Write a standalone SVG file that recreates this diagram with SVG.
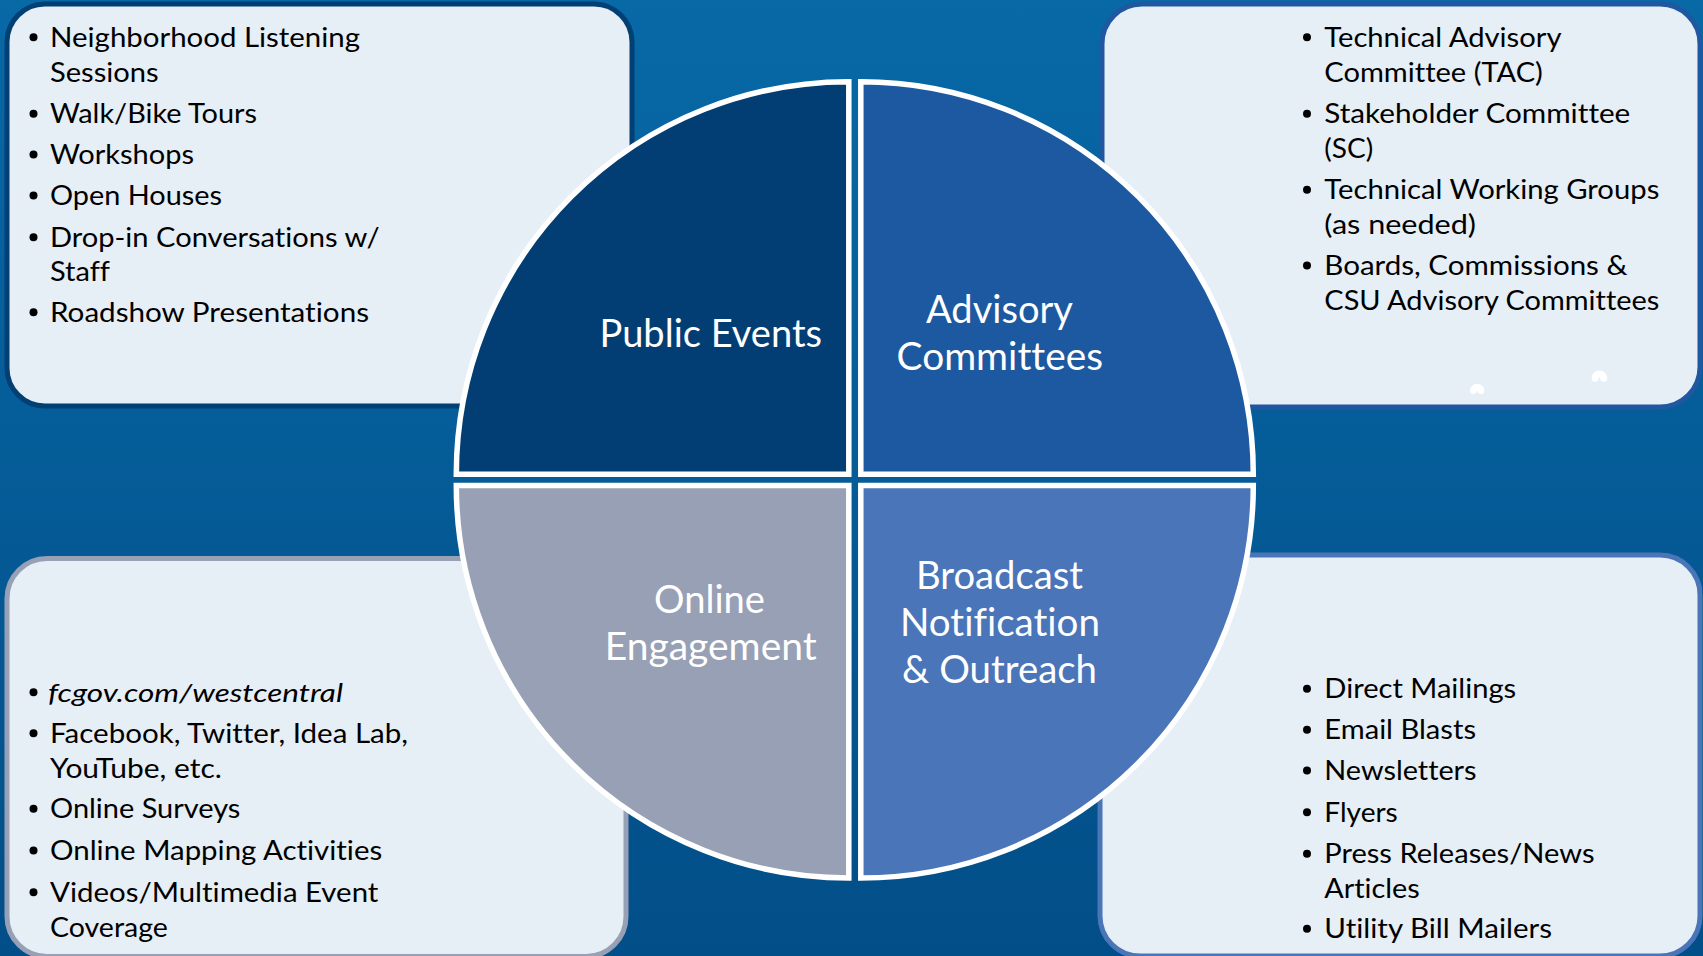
<svg xmlns="http://www.w3.org/2000/svg" width="1703" height="956" viewBox="0 0 1703 956">
  <defs>
    <linearGradient id="bg" x1="0" y1="0" x2="0" y2="1">
      <stop offset="0" stop-color="#0769a6"/>
      <stop offset="1" stop-color="#024e88"/>
    </linearGradient>
  </defs>
  <style>
    .box { fill: #e6eef6; stroke-width: 5; }
    .quad { stroke: #ffffff; stroke-width: 5.5; stroke-linejoin: miter; }
    .lbl { font-family: Lato, "Open Sans", "Liberation Sans", sans-serif; font-size: 38px; fill: #ffffff; font-variant-ligatures: none; }
    .item { font-family: Lato, "Open Sans", "Liberation Sans", sans-serif; font-size: 26px; fill: #000000; font-variant-ligatures: none; }
    .it { font-style: italic; }
    .dot { fill: #000000; }
    .blob { fill: none; stroke: #ffffff; stroke-width: 7; stroke-linecap: round; }
  </style>

  <!-- backdrop -->
  <rect x="0" y="0" width="1703" height="956" fill="url(#bg)"/>

  <!-- list panels -->
  <g id="panel-public-events">
    <rect class="box" x="7" y="4" width="625" height="402" rx="38" stroke="#023f73"/>
    <g class="dot">
      <circle cx="33.5" cy="37.2" r="4"/>
      <circle cx="33.5" cy="113.8" r="4"/>
      <circle cx="33.5" cy="154.5" r="4"/>
      <circle cx="33.5" cy="195.5" r="4"/>
      <circle cx="33.5" cy="237.2" r="4"/>
      <circle cx="33.5" cy="312.2" r="4"/>
    </g>
    <text class="item" x="50" y="46.7" textLength="310" lengthAdjust="spacingAndGlyphs">Neighborhood Listening</text>
    <text class="item" x="50" y="81.7" textLength="108.6" lengthAdjust="spacingAndGlyphs">Sessions</text>
    <text class="item" x="50" y="123.3" textLength="207" lengthAdjust="spacingAndGlyphs">Walk/Bike Tours</text>
    <text class="item" x="50" y="164" textLength="144" lengthAdjust="spacingAndGlyphs">Workshops</text>
    <text class="item" x="50" y="205" textLength="172" lengthAdjust="spacingAndGlyphs">Open Houses</text>
    <text class="item" x="50" y="246.7" textLength="329.6" lengthAdjust="spacingAndGlyphs">Drop-in Conversations w/</text>
    <text class="item" x="50" y="281" textLength="60" lengthAdjust="spacingAndGlyphs">Staff</text>
    <text class="item" x="50" y="321.7" textLength="319" lengthAdjust="spacingAndGlyphs">Roadshow Presentations</text>
  </g>

  <g id="panel-advisory-committees">
    <rect class="box" x="1102" y="4" width="598" height="403" rx="40" stroke="#1f58a0" stroke-width="4"/>
    <g class="dot">
      <circle cx="1307" cy="37.2" r="4"/>
      <circle cx="1307" cy="113.8" r="4"/>
      <circle cx="1307" cy="189.8" r="4"/>
      <circle cx="1307" cy="265.5" r="4"/>
    </g>
    <text class="item" x="1324.3" y="46.7" textLength="237.2" lengthAdjust="spacingAndGlyphs">Technical Advisory</text>
    <text class="item" x="1324.3" y="81.7" textLength="218.6" lengthAdjust="spacingAndGlyphs">Committee (TAC)</text>
    <text class="item" x="1324.3" y="123.3" textLength="306" lengthAdjust="spacingAndGlyphs">Stakeholder Committee</text>
    <text class="item" x="1324.3" y="158.3" textLength="48.9" lengthAdjust="spacingAndGlyphs">(SC)</text>
    <text class="item" x="1324.3" y="199.3" textLength="335" lengthAdjust="spacingAndGlyphs">Technical Working Groups</text>
    <text class="item" x="1324.3" y="234.3" textLength="151.7" lengthAdjust="spacingAndGlyphs">(as needed)</text>
    <text class="item" x="1324.3" y="275" textLength="303.2" lengthAdjust="spacingAndGlyphs">Boards, Commissions &amp;</text>
    <text class="item" x="1324.3" y="310" textLength="335" lengthAdjust="spacingAndGlyphs">CSU Advisory Committees</text>
    <path class="blob" d="M 1473.5 390.5 A 3.8 3.8 0 0 1 1481 390.5"/>
    <path class="blob" d="M 1595 378.3 A 4.4 4.4 0 0 1 1603.8 378.3"/>
  </g>

  <g id="panel-online-engagement">
    <rect class="box" x="7" y="558.5" width="619" height="398" rx="40" stroke="#97a0b5"/>
    <g class="dot">
      <circle cx="33.5" cy="692.2" r="4"/>
      <circle cx="33.5" cy="733.2" r="4"/>
      <circle cx="33.5" cy="808.8" r="4"/>
      <circle cx="33.5" cy="850.5" r="4"/>
      <circle cx="33.5" cy="892.2" r="4"/>
    </g>
    <text class="item it" x="48" y="701.7" textLength="295" lengthAdjust="spacingAndGlyphs">fcgov.com/westcentral</text>
    <text class="item" x="50" y="742.7" textLength="358" lengthAdjust="spacingAndGlyphs">Facebook, Twitter, Idea Lab,</text>
    <text class="item" x="50" y="778.3" textLength="171.8" lengthAdjust="spacingAndGlyphs">YouTube, etc.</text>
    <text class="item" x="50" y="818.3" textLength="190.4" lengthAdjust="spacingAndGlyphs">Online Surveys</text>
    <text class="item" x="50" y="860" textLength="332.2" lengthAdjust="spacingAndGlyphs">Online Mapping Activities</text>
    <text class="item" x="50" y="901.7" textLength="328.4" lengthAdjust="spacingAndGlyphs">Videos/Multimedia Event</text>
    <text class="item" x="50" y="937.3" textLength="117.9" lengthAdjust="spacingAndGlyphs">Coverage</text>
  </g>

  <g id="panel-broadcast">
    <rect class="box" x="1100" y="555" width="600" height="401" rx="40" stroke="#4a76b8" stroke-width="4"/>
    <g class="dot">
      <circle cx="1307" cy="688.8" r="4"/>
      <circle cx="1307" cy="729.8" r="4"/>
      <circle cx="1307" cy="770.5" r="4"/>
      <circle cx="1307" cy="812.2" r="4"/>
      <circle cx="1307" cy="853.8" r="4"/>
      <circle cx="1307" cy="928.8" r="4"/>
    </g>
    <text class="item" x="1324.3" y="698.3" textLength="191.9" lengthAdjust="spacingAndGlyphs">Direct Mailings</text>
    <text class="item" x="1324.3" y="739.3" textLength="151.7" lengthAdjust="spacingAndGlyphs">Email Blasts</text>
    <text class="item" x="1324.3" y="780" textLength="152.2" lengthAdjust="spacingAndGlyphs">Newsletters</text>
    <text class="item" x="1324.3" y="821.7" textLength="73.5" lengthAdjust="spacingAndGlyphs">Flyers</text>
    <text class="item" x="1324.3" y="863.3" textLength="270.2" lengthAdjust="spacingAndGlyphs">Press Releases/News</text>
    <text class="item" x="1324.3" y="898.3" textLength="95.4" lengthAdjust="spacingAndGlyphs">Articles</text>
    <text class="item" x="1324.3" y="938.3" textLength="227.7" lengthAdjust="spacingAndGlyphs">Utility Bill Mailers</text>
  </g>

  <!-- the four exploded quarters of the central disc -->
  <g id="public-events">
    <path class="quad" fill="#023e73" d="M 848.8 474.2 L 456.3 474.2 A 392.5 392.5 0 0 1 848.8 81.7 Z"/>
    <text class="lbl" x="599.5" y="347" textLength="222.5" lengthAdjust="spacingAndGlyphs">Public Events</text>
  </g>
  <g id="advisory-committees">
    <path class="quad" fill="#1d59a0" d="M 860.8 474.2 L 860.8 81.7 A 392.5 392.5 0 0 1 1253.3 474.2 Z"/>
    <text class="lbl" x="926" y="323" textLength="147" lengthAdjust="spacingAndGlyphs">Advisory</text>
    <text class="lbl" x="896.6" y="370" textLength="206.4" lengthAdjust="spacingAndGlyphs">Committees</text>
  </g>
  <g id="online-engagement">
    <path class="quad" fill="#97a0b4" d="M 848.8 485.5 L 848.8 878 A 392.5 392.5 0 0 1 456.3 485.5 Z"/>
    <text class="lbl" x="654" y="612.7" textLength="111" lengthAdjust="spacingAndGlyphs">Online</text>
    <text class="lbl" x="604.7" y="660" textLength="212" lengthAdjust="spacingAndGlyphs">Engagement</text>
  </g>
  <g id="broadcast-notification">
    <path class="quad" fill="#4a75b8" d="M 860.8 485.5 L 1253.3 485.5 A 392.5 392.5 0 0 1 860.8 878 Z"/>
    <text class="lbl" x="916" y="589" textLength="167" lengthAdjust="spacingAndGlyphs">Broadcast</text>
    <text class="lbl" x="900" y="636" textLength="200" lengthAdjust="spacingAndGlyphs">Notification</text>
    <text class="lbl" x="902" y="682.7" textLength="195" lengthAdjust="spacingAndGlyphs">&amp; Outreach</text>
  </g>

  <!-- no connectors in this chart -->
  <g id="connectors"/>
</svg>
